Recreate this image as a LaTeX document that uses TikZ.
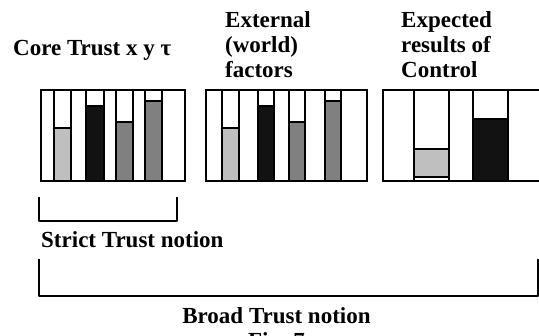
\documentclass[tikz,border=0pt]{standalone}
\usepackage{fontspec}
\setmainfont{Liberation Serif}
\begin{document}
\begin{tikzpicture}[x=1pt,y=-1pt,
  lbl/.style={font=\fontsize{23}{25}\selectfont\bfseries, inner sep=0pt, anchor=base west},
  frame/.style={draw=black, line width=2.8pt, fill=white},
  bar/.style={draw=black, line width=2.6pt},
  bracket/.style={draw=black, line width=2pt, line join=round}]
\useasboundingbox (0,0) rectangle (539,336);
\fill[white] (0,0) rectangle (539,336);

% --- headings
\node[lbl] (core) at (13,56) {Core Trust x y τ};
\node[lbl] (ext1) at (225,28) {External};
\node[lbl] (ext2) at (225,53) {(world)};
\node[lbl] (ext3) at (225,78) {factors};
\node[lbl] (exp1) at (401,28) {Expected};
\node[lbl] (exp2) at (401,53) {results of};
\node[lbl] (exp3) at (401,78) {Control};

% --- panel 1: core trust
\draw[frame] (41,90) rectangle (185,181);
\foreach \l/\r/\t/\c in {54/71/128/black!25, 86/104/106/black!93, 116/133/122/black!50, 145/162/101/black!50}{
  \fill[\c] (\l,\t) rectangle (\r,181);
  \draw[bar] (\l,90) rectangle (\r,181);
  \draw[bar] (\l,\t) -- (\r,\t);
}
\draw[frame, fill=none] (41,90) rectangle (185,181);

% --- panel 2: external factors
\draw[frame] (206,90) rectangle (367,181);
\foreach \l/\r/\t/\c in {222/239/128/black!25, 258/274/106/black!93, 289/305/122/black!50, 325/341/101/black!50}{
  \fill[\c] (\l,\t) rectangle (\r,181);
  \draw[bar] (\l,90) rectangle (\r,181);
  \draw[bar] (\l,\t) -- (\r,\t);
}
\draw[frame, fill=none] (206,90) rectangle (367,181);

% --- panel 3: expected results of control
\draw[frame] (383,90) rectangle (545,181);
\fill[black!25] (414,149) rectangle (449,177);
\draw[bar] (414,149) rectangle (449,177);
\draw[bar] (414,90) rectangle (449,181);
\fill[black!93] (473,119) rectangle (508,181);
\draw[bar] (473,90) rectangle (508,181);
\draw[bar] (473,119) -- (508,119);
\draw[frame, fill=none] (383,90) rectangle (545,181);

% --- brackets and their labels
\coordinate (s1) at (39,197);
\coordinate (s2) at (177,197);
\draw[bracket] (s1) -- (39,221) -- (177,221) -- (s2);
\node[lbl] (strict) at (41,248) {Strict Trust notion};

\coordinate (b1) at (39,259);
\coordinate (b2) at (538,259);
\draw[bracket] (b1) -- (39,296) -- (538,296) -- (b2);
\node[lbl, anchor=base] (broad) at (276.5,324) {Broad Trust notion};
\node[lbl, anchor=base] (fig) at (276.5,349) {Fig. 7};
\end{tikzpicture}
\end{document}
